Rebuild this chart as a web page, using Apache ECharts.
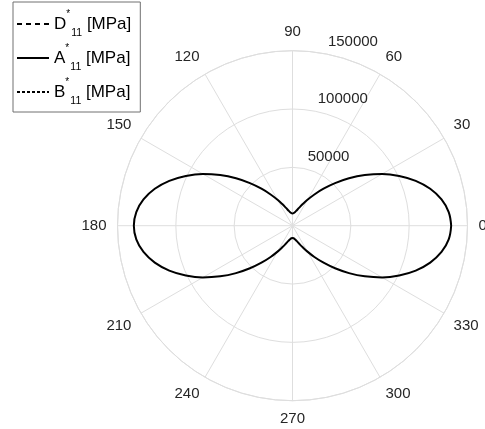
<!DOCTYPE html>
<html>
<head>
<meta charset="utf-8">
<script src="https://cdn.jsdelivr.net/npm/echarts@6/dist/echarts.min.js"></script>
<style>
  html, body { margin: 0; padding: 0; background: #fff; }
  #chart { width: 485px; height: 429px; }
</style>
</head>
<body>
<div id="chart"></div>
<script>
// Angles in degrees
var angles = [0, 5, 10, 15, 20, 25, 30, 35, 40, 45, 50, 55, 60, 65, 70, 75, 80, 85, 90,
  95, 100, 105, 110, 115, 120, 125, 130, 135, 140, 145, 150, 155, 160, 165, 170, 175, 180,
  185, 190, 195, 200, 205, 210, 215, 220, 225, 230, 235, 240, 245, 250, 255, 260, 265, 270,
  275, 280, 285, 290, 295, 300, 305, 310, 315, 320, 325, 330, 335, 340, 345, 350, 355, 360];

// A11* [MPa]
var A11 = [136000, 134400, 129700, 122200, 112400, 100900, 88700, 75650, 63200, 51600, 41400, 32700, 25650, 20200, 16250, 13500, 11750, 10800, 10500,
  10800, 11750, 13500, 16250, 20200, 25650, 32700, 41400, 51600, 63200, 75650, 88700, 100900, 112400, 122200, 129700, 134400, 136000,
  134400, 129700, 122200, 112400, 100900, 88700, 75650, 63200, 51600, 41400, 32700, 25650, 20200, 16250, 13500, 11750, 10800, 10500,
  10800, 11750, 13500, 16250, 20200, 25650, 32700, 41400, 51600, 63200, 75650, 88700, 100900, 112400, 122200, 129700, 134400, 136000];

// D11* and B11* [MPa] (collapsed at the origin in the figure)
var DBangles = [0, 30, 60, 90, 120, 150, 180, 210, 240, 270, 300, 330, 360];
var D11 = [0, 0, 0, 0, 0, 0, 0, 0, 0, 0, 0, 0, 0];
var B11 = [0, 0, 0, 0, 0, 0, 0, 0, 0, 0, 0, 0, 0];

var seriesNames = ['D', 'A', 'B'];
var angleTicks = [0, 30, 60, 90, 120, 150, 180, 210, 240, 270, 300, 330];
var radiusTicks = [50000, 100000, 150000];

function pairs(a, r) {
  var out = [];
  for (var i = 0; i < a.length; i++) out.push([r[i], a[i]]);
  return out;
}

var gridColor = '#dedede';
var textColor = '#262626';
var fontFamily = '"Liberation Sans", Arial, Helvetica, sans-serif';

var chart = echarts.init(document.getElementById('chart'), null, { renderer: 'canvas' });
chart.setOption({
  animation: false,
  backgroundColor: '#ffffff',
  polar: [
    { center: [292.5, 225.7], radius: 175 },
    { center: [292.5, 225.7], radius: 175 }
  ],
  angleAxis: [
    {
      polarIndex: 0,
      type: 'value', min: 0, max: 360, interval: 30,
      startAngle: 0, clockwise: false,
      axisLine: { show: true, lineStyle: { color: gridColor, width: 1 } },
      axisTick: { show: false },
      splitLine: { show: true, lineStyle: { color: gridColor, width: 1 } },
      axisLabel: {
        margin: 11, fontSize: 15, color: textColor, fontFamily: fontFamily,
        formatter: function (v) { return angleTicks.indexOf(v) >= 0 ? String(v) : ''; }
      }
    },
    {
      polarIndex: 1,
      type: 'value', min: 0, max: 360, startAngle: 80, clockwise: false,
      show: false
    }
  ],
  radiusAxis: [
    {
      polarIndex: 0,
      type: 'value', min: 0, max: 150000, interval: 50000,
      axisLine: { show: false }, axisTick: { show: false }, axisLabel: { show: false },
      splitLine: { show: true, lineStyle: { color: gridColor, width: 1 } }
    },
    {
      polarIndex: 1,
      type: 'value', min: 0, max: 150000, interval: 50000,
      axisLine: { show: false }, axisTick: { show: false }, splitLine: { show: false },
      axisLabel: {
        show: true, margin: 0, fontSize: 15, color: textColor, fontFamily: fontFamily,
        align: 'left', verticalAlign: 'bottom', padding: [0, 0, 4, 5],
        formatter: function (v) { return radiusTicks.indexOf(v) >= 0 ? String(v) : ''; }
      }
    }
  ],
  legend: {
    orient: 'vertical', left: 13, top: 2,
    padding: [7, 9, 5, 3], itemGap: 4,
    itemWidth: 32, itemHeight: 14,
    borderColor: '#707070', borderWidth: 1, backgroundColor: '#ffffff',
    itemStyle: { opacity: 0, borderWidth: 0 },
    data: seriesNames,
    formatter: function (name) {
      return '{n|' + name + '}{s|*}{b|11}{n| [MPa]}';
    },
    textStyle: {
      fontSize: 17, color: '#000', fontFamily: fontFamily, lineHeight: 30,
      rich: {
        n: { fontSize: 17, fontFamily: fontFamily, color: '#000', lineHeight: 30 },
        s: { fontSize: 10, fontFamily: fontFamily, color: '#000', lineHeight: 18, verticalAlign: 'top', width: 5 },
        b: { fontSize: 10.5, fontFamily: fontFamily, color: '#000', lineHeight: 11, verticalAlign: 'bottom' }
      }
    }
  },
  series: [
    {
      name: 'D', type: 'line', coordinateSystem: 'polar', polarIndex: 0,
      data: pairs(DBangles, D11), symbol: 'none', color: '#000',
      lineStyle: { color: '#000', width: 1.3, type: [5, 4] }
    },
    {
      name: 'A', type: 'line', coordinateSystem: 'polar', polarIndex: 0,
      data: pairs(angles, A11), symbol: 'none', smooth: 0.4, color: '#000',
      lineStyle: { color: '#000', width: 2 }
    },
    {
      name: 'B', type: 'line', coordinateSystem: 'polar', polarIndex: 0,
      data: pairs(DBangles, B11), symbol: 'none', color: '#000',
      lineStyle: { color: '#000', width: 1.3, type: [3, 2] }
    }
  ]
});
</script>
</body>
</html>
